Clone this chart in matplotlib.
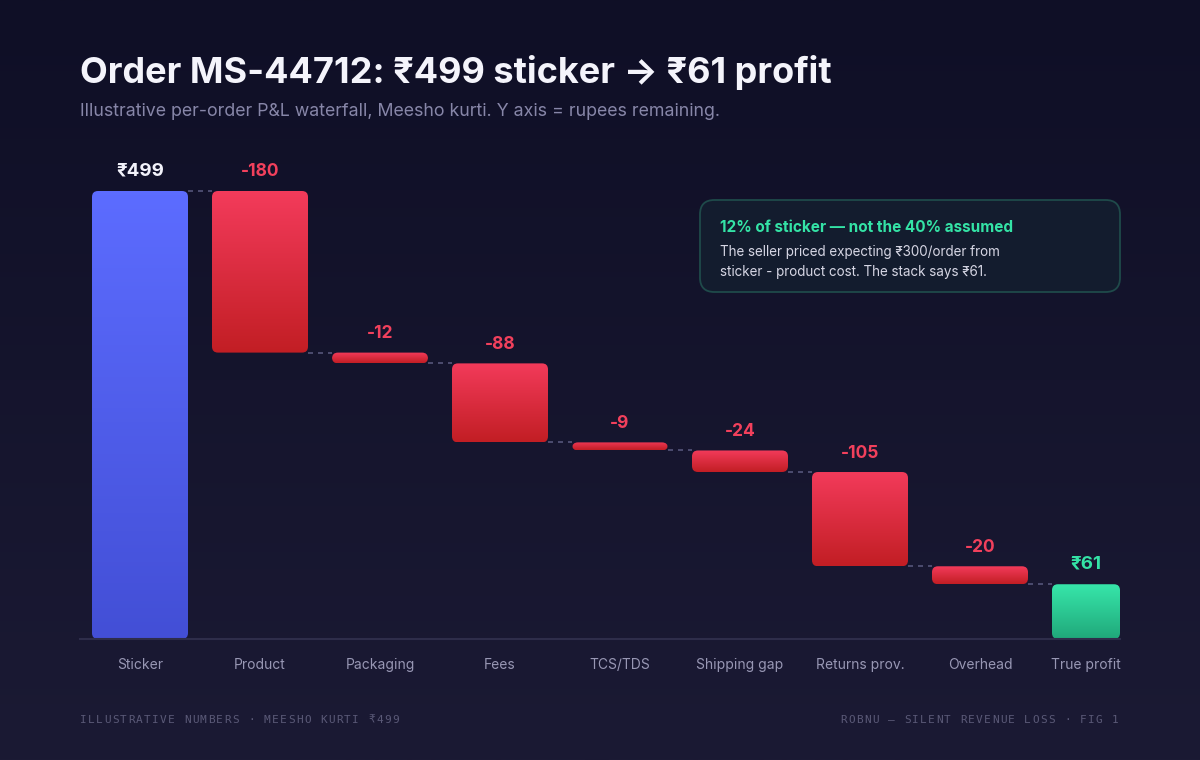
import numpy as np
import matplotlib
matplotlib.use("Agg")
import matplotlib.pyplot as plt
from matplotlib.patches import FancyBboxPatch
from matplotlib.colors import LinearSegmentedColormap

plt.rcParams['font.family'] = ['Inter', 'Noto Sans', 'DejaVu Sans']

# data
categories = ['Sticker', 'Product', 'Packaging', 'Fees', 'TCS/TDS',
              'Shipping gap', 'Returns prov.', 'Overhead', 'True profit']
sticker = 499
deltas = [-180, -12, -88, -9, -24, -105, -20]
profit = 61

BG_TOP = '#0f0f26'
BG_BOT = '#1b1a34'
RED_LBL = '#f2405c'
GREEN_LBL = '#34e3a6'

fig = plt.figure(figsize=(12, 7.6), dpi=100)

# background gradient
bg = fig.add_axes([0, 0, 1, 1], zorder=-10)
bg.imshow(np.linspace(0, 1, 256).reshape(-1, 1), aspect='auto', extent=[0, 1, 0, 1],
          cmap=LinearSegmentedColormap.from_list('bg', [BG_TOP, BG_BOT]))
bg.set_axis_off()

# main axes: left 80px, right 1120px, baseline 639px, top 160px
W, H = 1200, 760
ax = fig.add_axes([80 / W, (H - 639) / H, 1040 / W, 479 / H])
ax.set_facecolor('none')
x_right = 8 + (1120 - 1100) / 120
ax.set_xlim(-0.5, x_right)
ax.set_ylim(0, 479 / (448 / sticker))
for s in ['top', 'right', 'left']:
    ax.spines[s].set_visible(False)
ax.spines['bottom'].set_color('#2e2d4a')
ax.spines['bottom'].set_linewidth(1.5)
ax.set_yticks([])
ax.tick_params(axis='x', length=0, pad=14)

# pixel scale to make rounded corners
px_x = 120.0
px_y = 448.0 / sticker
bw = 0.8


def grad_bar(x0, y0, w, h, c_top, c_bot):
    r = 6 / px_x
    patch = FancyBboxPatch((x0, y0), w, h,
                           boxstyle='round,pad=0,rounding_size=%f' % r,
                           mutation_aspect=px_x / px_y,
                           facecolor='none', edgecolor='none')
    ax.add_patch(patch)
    cm = LinearSegmentedColormap.from_list('g', [c_bot, c_top])
    im = ax.imshow(np.linspace(0, 1, 128).reshape(-1, 1), origin='lower',
                   aspect='auto', extent=[x0, x0 + w, y0, y0 + h], cmap=cm, zorder=2)
    im.set_clip_path(patch)


# running levels
levels = [sticker]
for d in deltas:
    levels.append(levels[-1] + d)

# sticker bar
grad_bar(-bw / 2, 0, bw, sticker, '#5c6cff', '#434fd6')
ax.text(0, sticker + 20 / px_y, '₹%d' % sticker, ha='center', va='center',
        color='#f2f2fa', fontsize=13.5, fontweight='bold')

for i, d in enumerate(deltas, start=1):
    top = levels[i - 1]
    bot = levels[i]
    grad_bar(i - bw / 2, bot, bw, top - bot, '#f33b5b', '#c21e24')
    ax.text(i, top + 19 / px_y, '%d' % d, ha='center', va='center',
            color=RED_LBL, fontsize=12.5, fontweight='bold')

# profit bar: squeezed to fit inside the plot area
last = len(categories) - 1
pw = x_right - (last - bw / 2)
grad_bar(last - bw / 2, 0, pw, profit, '#37e6aa', '#20a87a')
vis_c = last - bw / 2 + pw / 2
ax.text(vis_c, profit + 20 / px_y, '₹%d' % profit, ha='center', va='center',
        color=GREEN_LBL, fontsize=13.5, fontweight='bold')
ax.set_xticks(list(range(last)) + [vis_c])
ax.set_xticklabels(categories, color='#9897b4', fontsize=10)

# connectors
for i in range(len(categories) - 1):
    ax.plot([i + bw / 2, i + 1 - bw / 2], [levels[i], levels[i]],
            color='#55557a', lw=1.2, ls=(0, (3, 3)), zorder=1)

# title + subtitle
fig.text(80 / W, 1 - 72 / H, 'Order MS-44712: ₹499 sticker → ₹61 profit',
         color='#f4f4fb', fontsize=26, fontweight='bold', va='center', ha='left')
fig.text(80 / W, 1 - 112 / H,
         'Illustrative per-order P&L waterfall, Meesho kurti. Y axis = rupees remaining.',
         color='#8786a8', fontsize=12.8, va='center', ha='left')

# callout box
box = FancyBboxPatch((700 / W, 1 - 292 / H), 420 / W, 92 / H,
                     boxstyle='round,pad=0,rounding_size=0.012',
                     mutation_aspect=W / H,
                     transform=fig.transFigure, facecolor='#131c2e',
                     edgecolor='#1f4a4a', lw=1.3, zorder=5)
fig.patches.append(box)
fig.text(720 / W, 1 - 227 / H, '12% of sticker — not the 40% assumed',
         color=GREEN_LBL, fontsize=11, fontweight='bold', va='center', zorder=6)
fig.text(720 / W, 1 - 252 / H, 'The seller priced expecting ₹300/order from',
         color='#d6d6e4', fontsize=9.7, va='center', zorder=6)
fig.text(720 / W, 1 - 272 / H, 'sticker - product cost. The stack says ₹61.',
         color='#d6d6e4', fontsize=9.7, va='center', zorder=6)


# footer with letter spacing
def spaced(x_px, y_px, s, step, align='left'):
    n = len(s)
    if align == 'right':
        x_px = x_px - step * n
    for k, ch in enumerate(s):
        fig.text((x_px + k * step) / W, 1 - y_px / H, ch, color='#5a5977',
                 fontsize=8, family=['DejaVu Sans Mono', 'Noto Sans'],
                 ha='left', va='center')


spaced(80, 720, 'ILLUSTRATIVE NUMBERS · MEESHO KURTI ₹499', 8.0)
spaced(1120, 720, 'ROBNU — SILENT REVENUE LOSS · FIG 1', 8.0, align='right')

fig.savefig('out.png', dpi=100, facecolor=BG_TOP)
